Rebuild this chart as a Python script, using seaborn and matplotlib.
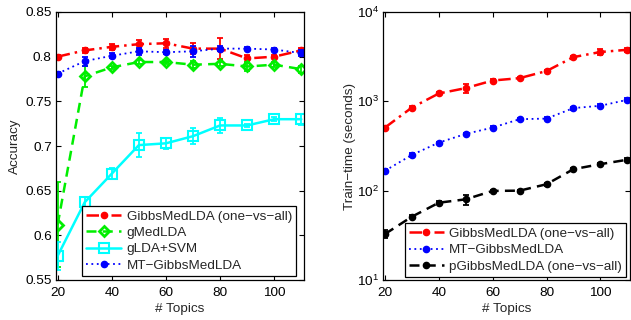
import numpy as np
import pandas as pd
import seaborn as sns
import matplotlib
matplotlib.use("Agg")
import matplotlib.pyplot as plt

sns.set_style("white")
plt.rcParams['font.family'] = ['Liberation Sans', 'DejaVu Sans']
plt.rcParams['mathtext.fontset'] = 'custom'
plt.rcParams['mathtext.rm'] = 'Liberation Sans'

topics = [20, 30, 40, 50, 60, 70, 80, 90, 100, 110]

# Accuracy panel
acc_gibbs = [0.800, 0.807, 0.811, 0.814, 0.815, 0.809, 0.809, 0.798, 0.800, 0.807]
acc_gibbs_err = [0.002, 0.003, 0.003, 0.005, 0.005, 0.006, 0.012, 0.004, 0.002, 0.003]
acc_gmed = [0.612, 0.778, 0.788, 0.794, 0.794, 0.791, 0.792, 0.789, 0.791, 0.786]
acc_gmed_err = [0.048, 0.012, 0.002, 0.002, 0.002, 0.004, 0.002, 0.005, 0.003, 0.004]
acc_glda = [0.577, 0.637, 0.669, 0.701, 0.703, 0.711, 0.723, 0.723, 0.730, 0.730]
acc_glda_err = [0.016, 0.006, 0.006, 0.013, 0.006, 0.009, 0.008, 0.002, 0.002, 0.006]
acc_mt = [0.781, 0.795, 0.801, 0.806, 0.805, 0.806, 0.809, 0.809, 0.808, 0.804]
acc_mt_err = [0.002, 0.005, 0.003, 0.004, 0.002, 0.006, 0.003, 0.002, 0.002, 0.003]

# Train-time panel
tt_gibbs = [508, 851, 1224, 1406, 1710, 1818, 2183, 3126, 3566, 3776]
tt_gibbs_err = [20, 40, 60, 160, 60, 60, 80, 120, 300, 200]
tt_mt = [167, 251, 345, 432, 508, 631, 641, 840, 892, 1040]
tt_mt_err = [6, 10, 10, 15, 20, 20, 20, 30, 30, 40]
tt_p = [32.7, 51.1, 73.3, 80.0, 99.4, 100.0, 118, 174, 198, 222]
tt_p_err = [3.5, 2, 3, 10, 3, 3, 4, 6, 6, 8]

W, H = 631, 320
fig = plt.figure(figsize=(W / 100, H / 100), dpi=100)
ax1 = fig.add_axes([56 / W, 1 - 280 / H, 248 / W, 268 / H])
ax2 = fig.add_axes([383.3 / W, 1 - 280 / H, 246.7 / W, 268 / H])

FS = 9.7


def draw(ax, y, err, label, color, ls, marker, ms, mfc, mew, lw=1.8):
    df = pd.DataFrame({"x": topics, "y": y})
    sns.lineplot(data=df, x="x", y="y", ax=ax, color=color, linestyle=ls,
                 marker=marker, markersize=ms, markerfacecolor=mfc,
                 markeredgecolor=color, markeredgewidth=mew, linewidth=lw,
                 label=label, errorbar=None)
    ax.errorbar(topics, y, yerr=err, fmt='none', ecolor=color, elinewidth=1.3,
                capsize=2.2, capthick=1.3)


draw(ax1, acc_gibbs, acc_gibbs_err, "GibbsMedLDA (one\u2212vs\u2212all)", "#ff0000", (0, (5, 2, 1, 2)), 'o', 4.5, "#ff0000", 1)
draw(ax1, acc_gmed, acc_gmed_err, "gMedLDA", "#00ee00", (0, (4, 2.5)), 'D', 5, "none", 2)
draw(ax1, acc_glda, acc_glda_err, "gLDA+SVM", "#00ffff", '-', 's', 7, "none", 1.5)
draw(ax1, acc_mt, acc_mt_err, "MT\u2212GibbsMedLDA", "#0000ff", (0, (1, 2)), 'o', 4.5, "#0000ff", 1, lw=1.3)

draw(ax2, tt_gibbs, tt_gibbs_err, "GibbsMedLDA (one\u2212vs\u2212all)", "#ff0000", (0, (5, 2, 1, 2)), 'o', 4.5, "#ff0000", 1)
draw(ax2, tt_mt, tt_mt_err, "MT\u2212GibbsMedLDA", "#0000ff", (0, (1, 2)), 'o', 4.5, "#0000ff", 1, lw=1.3)
draw(ax2, tt_p, tt_p_err, "pGibbsMedLDA (one\u2212vs\u2212all)", "#000000", (0, (4, 2.5)), 'o', 4.5, "#000000", 1)

ax1.set_xlim(19.4, 111)
ax1.set_ylim(0.55, 0.85)
ax1.set_xticks([20, 40, 60, 80, 100])
ax1.set_yticks([0.55, 0.6, 0.65, 0.7, 0.75, 0.8, 0.85])
ax1.set_yticklabels(["0.55", "0.6", "0.65", "0.7", "0.75", "0.8", "0.85"])
ax1.set_xlabel("# Topics", fontsize=FS, labelpad=3)
ax1.set_ylabel("Accuracy", fontsize=FS, labelpad=3)

ax2.set_yscale('log')
ax2.set_xlim(19.4, 111)
ax2.set_ylim(10, 10000)
ax2.set_xticks([20, 40, 60, 80, 100])
ax2.set_yticks([10, 100, 1000, 10000])
ax2.set_yticklabels([r"$10^{1}$", r"$10^{2}$", r"$10^{3}$", r"$10^{4}$"])
ax2.yaxis.set_minor_locator(matplotlib.ticker.NullLocator())
ax2.set_xlabel("# Topics", fontsize=FS, labelpad=3)
ax2.set_ylabel("Train\u2212time (seconds)", fontsize=FS, labelpad=1)

for ax in (ax1, ax2):
    for s in ax.spines.values():
        s.set_visible(True)
        s.set_color('black')
        s.set_linewidth(0.9)
    ax.tick_params(direction='in', length=3.5, width=0.8, top=True, right=True,
                   bottom=True, left=True, labelsize=FS, colors='black', pad=3)
    ax.tick_params(axis='x', pad=5)

leg_kw = dict(loc='lower right', fontsize=FS, handlelength=2.6,
              labelspacing=0.3, borderpad=0.3, handletextpad=0.4,
              borderaxespad=0, fancybox=False, edgecolor='black', framealpha=1)
leg1 = ax1.legend(bbox_to_anchor=(0.968, 0.015), **leg_kw)
leg1.get_frame().set_linewidth(0.9)
leg2 = ax2.legend(bbox_to_anchor=(0.984, 0.012), **leg_kw)
leg2.get_frame().set_linewidth(0.9)

fig.savefig("out.png", dpi=100)
